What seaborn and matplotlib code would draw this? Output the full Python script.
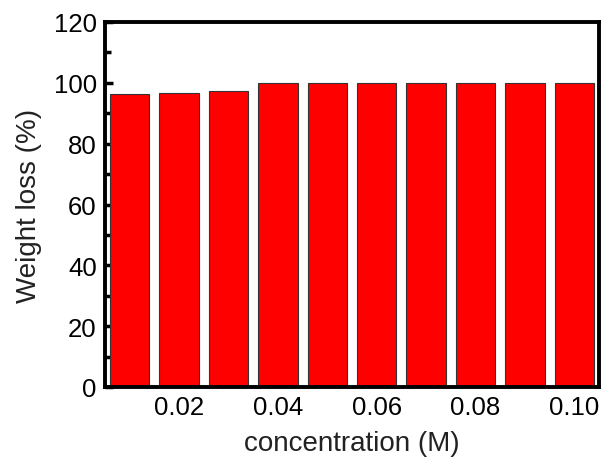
import pandas as pd
import matplotlib
matplotlib.use('Agg')
import matplotlib.pyplot as plt
import seaborn as sns
from matplotlib.ticker import MultipleLocator, FormatStrFormatter

# Данные
concentration = [0.01, 0.02, 0.03, 0.04, 0.05, 0.06, 0.07, 0.08, 0.09, 0.10]
weight_loss = [96.3, 96.6, 97.4, 99.9, 99.9, 99.9, 99.9, 99.9, 99.9, 99.9]

df = pd.DataFrame({'concentration': concentration, 'weight_loss': weight_loss})

sns.set_style('ticks')
plt.rcParams['font.family'] = ['Liberation Sans', 'DejaVu Sans']
plt.rcParams['text.color'] = 'black'
plt.rcParams['axes.labelcolor'] = 'black'
plt.rcParams['xtick.color'] = 'black'
plt.rcParams['ytick.color'] = 'black'

fig = plt.figure(figsize=(6.02, 4.64), dpi=100)
ax = fig.add_axes([105 / 602, 1 - 388 / 464, 494 / 602, 365 / 464])

sns.barplot(data=df, x='concentration', y='weight_loss', native_scale=True,
            color='#ff0000', saturation=1, edgecolor='#333333', linewidth=0.8,
            width=0.8, ax=ax)

ax.set_xlim(0.005, 0.105)
ax.set_ylim(0, 120)
ax.xaxis.set_major_locator(MultipleLocator(0.02))
ax.xaxis.set_minor_locator(MultipleLocator(0.01))
ax.xaxis.set_major_formatter(FormatStrFormatter('%.2f'))
ax.yaxis.set_major_locator(MultipleLocator(20))
ax.yaxis.set_minor_locator(MultipleLocator(10))

ax.tick_params(which='both', direction='in', width=2.5, colors='black',
               labelsize=18.5, pad=6)
ax.tick_params(which='major', length=6)
ax.tick_params(which='minor', length=4)
for s in ax.spines.values():
    s.set_linewidth(2.8)
    s.set_color('black')

ax.set_xlabel('concentration (M)', fontsize=20, labelpad=8, color='#222222')
ax.set_ylabel('Weight loss (%)', fontsize=20, labelpad=8, color='#222222')

fig.savefig('out.png', dpi=100)
